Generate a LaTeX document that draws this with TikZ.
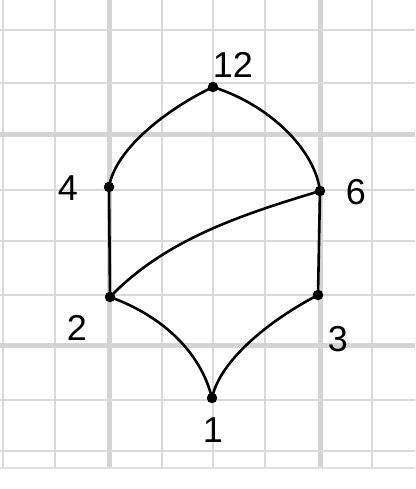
\documentclass[tikz,border=0pt]{standalone}
\usepackage{fontspec}
\setmainfont{Liberation Sans}
\begin{document}
\begin{tikzpicture}[x=1pt,y=-1pt,
  gridthin/.style={draw=black!15, line width=2.6pt},
  gridthick/.style={draw=black!17, line width=5pt},
  vtx/.style={circle, fill=black, inner sep=0pt, minimum size=10.5pt},
  lbl/.style={font=\fontsize{36}{36}\selectfont, inner sep=0pt},
  edge/.style={line width=2.6pt, line cap=round}]
\useasboundingbox (0,0) rectangle (415,489);
% grid
\foreach \x in {3,55,162,213,265,372} \draw[gridthin] (\x,0) -- (\x,468);
\foreach \x in {109,320} \draw[gridthick] (\x,0) -- (\x,468);
\foreach \y in {30,83,190,241,295,400,451} \draw[gridthin] (0,\y) -- (415,\y);
\foreach \y in {135,345} \draw[gridthick] (0,\y) -- (415,\y);
\draw[draw=black!12, line width=2pt] (0,468) -- (415,468);
% vertices
\node[vtx] (n12) at (213,87) {};
\node[vtx] (n4) at (109,187) {};
\node[vtx] (n6) at (320,191) {};
\node[vtx] (n2) at (110,297) {};
\node[vtx] (n3) at (318,295) {};
\node[vtx] (n1) at (212,398) {};
% labels
\node[lbl] (l12) at (233,65) {12};
\node[lbl] (l4) at (68,188) {4};
\node[lbl] (l6) at (356,192) {6};
\node[lbl] (l2) at (77,328) {2};
\node[lbl] (l3) at (338,339) {3};
\node[lbl] (l1) at (213,430) {1};
% edges
\draw[edge] (n12.center) .. controls (165,110) and (115,150) .. (n4.center);
\draw[edge] (n12.center) .. controls (270,105) and (315,150) .. (n6.center);
\draw[edge] (n4.center) -- (n2.center);
\draw[edge] (n6.center) -- (n3.center);
\draw[edge] (n2.center) .. controls (165,240) and (240,215) .. (n6.center);
\draw[edge] (n2.center) .. controls (160,315) and (200,350) .. (n1.center);
\draw[edge] (n3.center) .. controls (270,320) and (220,360) .. (n1.center);
\end{tikzpicture}
\end{document}
